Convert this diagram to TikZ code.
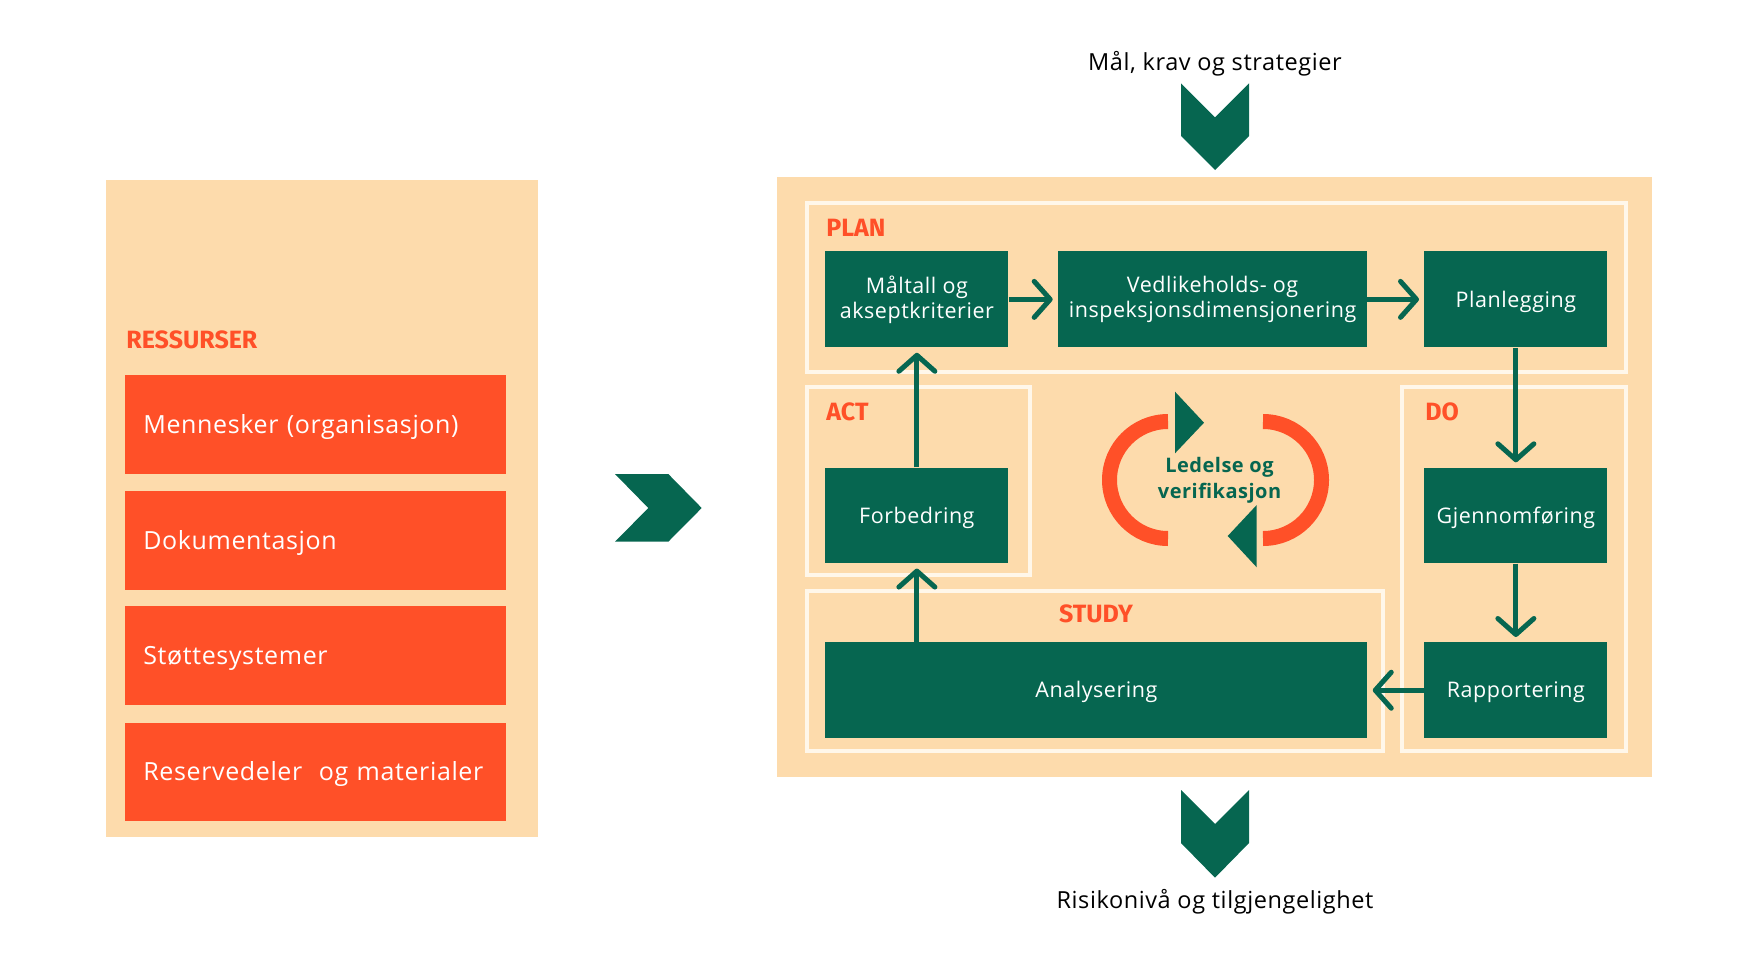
\documentclass[tikz,border=0pt]{standalone}
\usepackage{fontspec}
\setmainfont{Open Sans}[LetterSpace=2.5]
\newfontfamily\headfont{Fira Sans}
\usetikzlibrary{arrows.meta}
\definecolor{beige}{RGB}{253,219,172}
\definecolor{tomato}{RGB}{255,80,40}
\definecolor{pine}{RGB}{6,102,80}
\definecolor{cream}{RGB}{255,247,234}
\tikzset{every picture/.style={line width=0.75pt}}

\begin{document}
\begin{tikzpicture}[x=1pt,y=1pt,yscale=-1,xscale=1,
	frame/.style={draw=cream, line width=4pt},
	redbox/.style={fill=tomato, text=white, anchor=north west, minimum height=98.5pt, text width=344.7pt, inner xsep=18pt, inner ysep=0pt, align=left, text height=18pt, text depth=0pt, font=\fontsize{25}{30}\selectfont},
	greenbox/.style={fill=pine, text=white, anchor=north west, inner sep=0pt, align=center, font=\fontsize{21.5}{25}\selectfont},
	oneline/.style={text height=15.5pt, text depth=0pt},
	phase/.style={text=tomato, inner sep=0pt, anchor=base west, font=\headfont\bfseries\fontsize{25}{28}\selectfont},
	flow/.style={draw=pine, line width=5pt, -{Straight Barb[length=16pt,width=36pt,round]}, shorten >=5pt},
	chevron/.style={fill=pine, draw=none}]
	\useasboundingbox (0,0) rectangle (1758,964);
	
	%Shape: Rectangle [left panel]
	\fill [beige] (106,180) rectangle (538,837.3);
	%Shape: Rectangle [right panel]
	\fill [beige] (776.7,177.3) rectangle (1651.5,776.5);
	
	%Shape: Frames
	\draw [frame] (806.5,203) rectangle (1625.7,371.7);
	\draw [frame] (806.5,387) rectangle (1029.7,574.7);
	\draw [frame] (806.5,591) rectangle (1383.3,751);
	\draw [frame] (1401.7,387) rectangle (1625.7,751);
	
	% Text Node
	\node [phase] (ressurser) at (126,348) {RESSURSER};
	\node [phase] (planlbl) at (826,236) {PLAN};
	\node [phase] (actlbl) at (826,420) {ACT};
	\node [phase] (dolbl) at (1425,420) {DO};
	\node [phase, anchor=base] (studylbl) at (1096,622.3) {STUDY};
	
	% Resources
	\node [redbox] (mennesker) at (125,375) {Mennesker (organisasjon)};
	\node [redbox] (dokument) at (125,490.7) {Dokumentasjon};
	\node [redbox] (stotte) at (125,606) {Støttesystemer};
	\node [redbox] (reserve) at (125,722.3) {Reservedeler\ \ og materialer};
	
	% Process boxes
	\node [greenbox, minimum width=183pt, minimum height=96pt] (maal) at (825,251) {Måltall og\\akseptkriterier};
	\node [greenbox, minimum width=309pt, minimum height=96pt] (vedl) at (1057.7,251) {Vedlikeholds- og\\inspeksjonsdimensjonering};
	\node [greenbox, oneline, minimum width=183pt, minimum height=96pt] (planl) at (1424,251) {Planlegging};
	\node [greenbox, oneline, minimum width=183pt, minimum height=95.5pt] (gjen) at (1424,467.3) {Gjennomføring};
	\node [greenbox, oneline, minimum width=183pt, minimum height=95.7pt] (rapp) at (1424,642) {Rapportering};
	\node [greenbox, oneline, minimum width=542pt, minimum height=95.7pt] (anal) at (825,642) {Analysering};
	\node [greenbox, oneline, minimum width=183pt, minimum height=95.5pt] (forb) at (825,467.3) {Forbedring};
	
	%Straight Lines
	\draw [flow] (maal) -- (vedl);
	\draw [flow] (vedl) -- (planl);
	\draw [flow] (planl) -- (gjen);
	\draw [flow] (gjen) -- (rapp);
	\draw [flow] (rapp) -- (anal);
	\draw [flow] (forb.south |- anal.north) -- (forb.south);
	\draw [flow] (forb) -- (maal);
	
	%Shape: Cycle
	\draw [tomato, line width=15pt] (1168,538.5) arc [start angle=90, end angle=270, radius=58.5];
	\draw [tomato, line width=15pt] (1263,421.5) arc [start angle=-90, end angle=90, radius=58.5];
	\fill [pine] (1175,391.7) -- (1204,422.7) -- (1175,453.3) -- cycle;
	\fill [pine] (1256.7,505) -- (1227.7,536) -- (1256.7,567.3) -- cycle;
	\node [text=pine, align=center, font=\bfseries\fontsize{20}{26}\selectfont] (ledelse) at (1219.5,480.5) {Ledelse og\\verifikasjon};
	
	%Shape: Chevrons
	\fill [chevron] (1181,83.3) -- (1215,117.3) -- (1249,83.3) -- (1249,136) -- (1215,170) -- (1181,136) -- cycle;
	\fill [chevron] (1181,790) -- (1215,824) -- (1249,790) -- (1249,843) -- (1215,877.7) -- (1181,843) -- cycle;
	\fill [chevron] (615,474) -- (668.3,474) -- (701.7,508) -- (668.3,541.7) -- (615,541.7) -- (648.3,508) -- cycle;
	
	% Text Node
	\node [anchor=base, inner sep=0pt, font=\fontsize{23.5}{28}\selectfont] (maal-krav) at (1215,70) {Mål, krav og strategier};
	\node [anchor=base, inner sep=0pt, font=\fontsize{23.5}{28}\selectfont] (risiko) at (1215,908.3) {Risikonivå og tilgjengelighet};
	
\end{tikzpicture}
\end{document}
